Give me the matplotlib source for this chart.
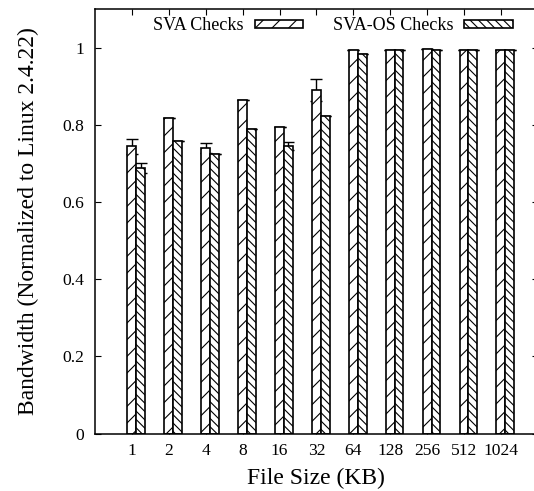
import matplotlib
matplotlib.use('Agg')
import matplotlib.pyplot as plt
import numpy as np
from matplotlib.patches import Patch

sizes = ['1', '2', '4', '8', '16', '32', '64', '128', '256', '512', '1024']
sva = [0.744, 0.817, 0.740, 0.865, 0.793, 0.890, 0.994, 0.994, 0.997, 0.995, 0.995]
sva_err = [0.019, 0.0, 0.013, 0.0, 0.0, 0.028, 0.0, 0.0, 0.0, 0.0, 0.0]
svaos = [0.688, 0.759, 0.725, 0.788, 0.745, 0.824, 0.984, 0.994, 0.995, 0.995, 0.995]
svaos_err = [0.012, 0.0, 0.0, 0.0, 0.011, 0.0, 0.0, 0.0, 0.0, 0.0, 0.0]
yticks = [0, 0.2, 0.4, 0.6, 0.8, 1.0]
ytick_labels = ['0', '0.2', '0.4', '0.6', '0.8', '1']

plt.rcParams['font.family'] = ['Liberation Serif', 'DejaVu Serif']
plt.rcParams['hatch.linewidth'] = 0.8

fig = plt.figure(figsize=(5.34, 4.91), dpi=100)
W, H = 534, 491
left, right, top, bottom = 95, 537.8, 9, 433.5
ax = fig.add_axes([left / W, 1 - bottom / H, (right - left) / W, (bottom - top) / H])

x = np.arange(len(sizes))
bw = 0.24
ax.errorbar(x, sva, yerr=sva_err, fmt='none', ecolor='black', elinewidth=1.0,
            capsize=4, capthick=1.0, zorder=1)
ax.errorbar(x + bw, svaos, yerr=svaos_err, fmt='none', ecolor='black', elinewidth=1.0,
            capsize=4, capthick=1.0, zorder=1)
ax.bar(x, sva, width=bw, color='white', edgecolor='black', linewidth=1.2,
       hatch='//', zorder=2)
ax.bar(x + bw, svaos, width=bw, color='white', edgecolor='black', linewidth=1.2,
       hatch='\\\\\\\\', zorder=2)

ax.set_xlim(-1, 11)
ax.set_ylim(0, 1.1)
ax.set_xticks(x)
ax.set_xticklabels(sizes)
ax.set_yticks(yticks)
ax.set_yticklabels(ytick_labels)
ax.tick_params(direction='in', length=4.5, width=0.8, labelsize=12.6,
               top=True, right=True, pad=8)
ax.tick_params(axis='x', pad=7)
for s in ax.spines.values():
    s.set_linewidth(1.1)

ax.set_xlabel('File Size (KB)', fontsize=17)
ax.set_ylabel('Bandwidth (Normalized to Linux 2.4.22)', fontsize=17)
ax.xaxis.set_label_coords(0.5, -0.081)
ax.yaxis.set_label_coords(-0.127, 0.5)

handles = [Patch(facecolor='white', edgecolor='black', linewidth=1.2, hatch='//'),
           Patch(facecolor='white', edgecolor='black', linewidth=1.2, hatch='\\\\\\\\')]
ax.legend(handles, ['SVA Checks', 'SVA-OS Checks'], ncol=2, markerfirst=False,
          frameon=False, fontsize=13, handlelength=2.7, handleheight=0.34,
          handletextpad=0.6, columnspacing=1.65, loc='center',
          bbox_to_anchor=(0.538, 0.96), borderpad=0, borderaxespad=0)

fig.savefig('out.png', dpi=100)
